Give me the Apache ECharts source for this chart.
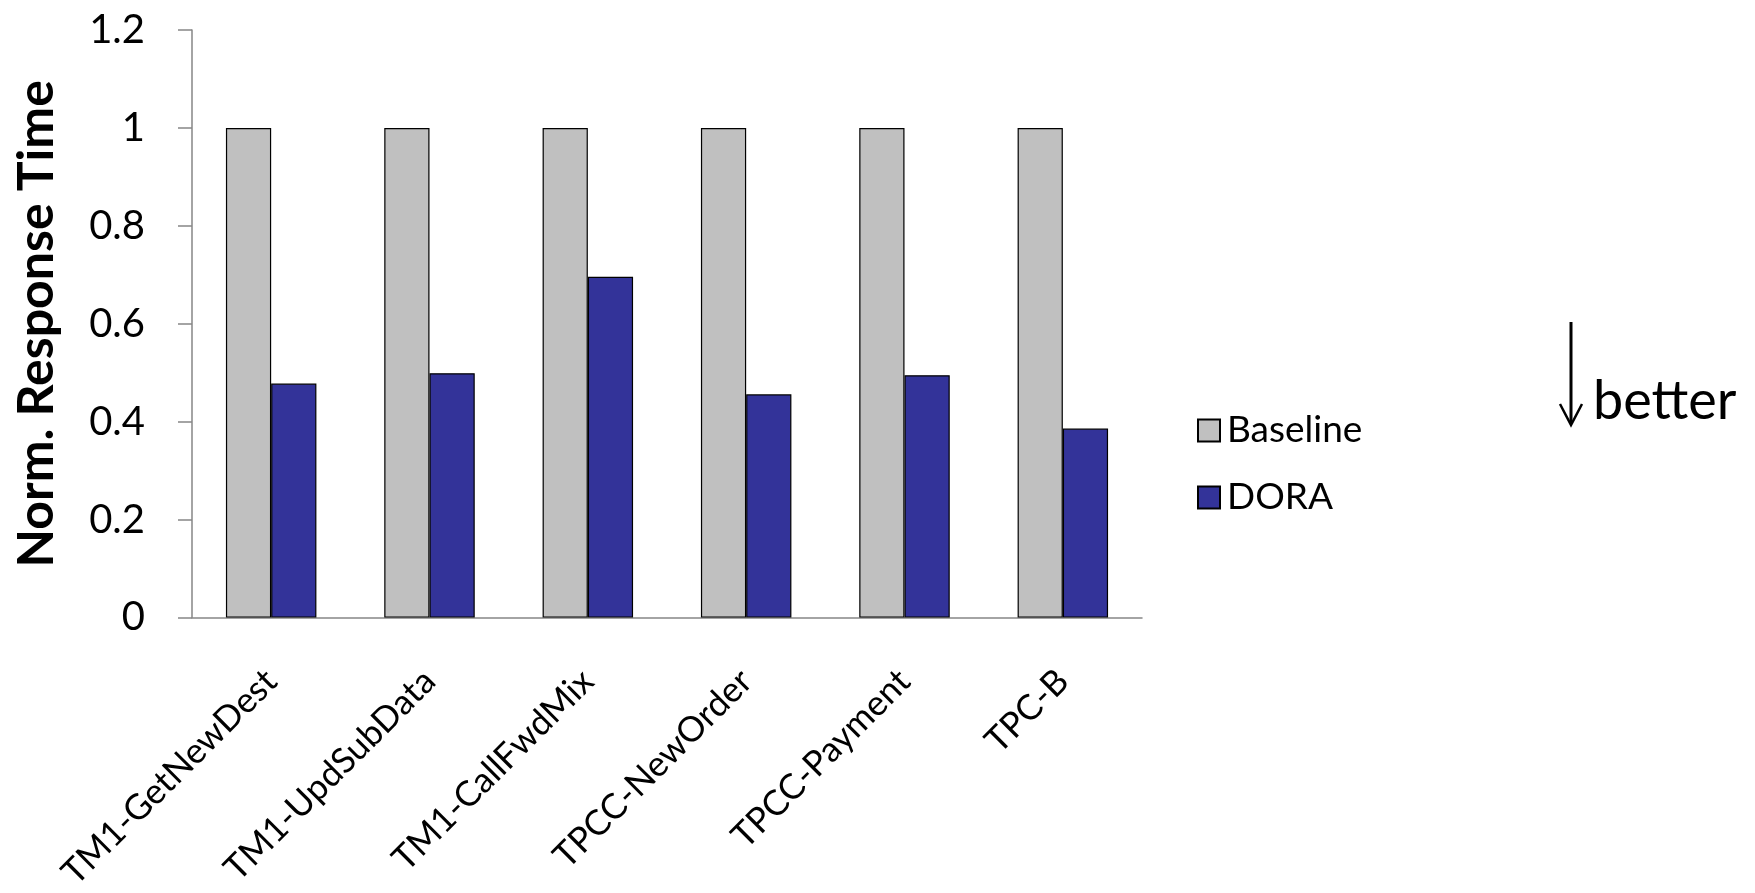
<!DOCTYPE html>
<html>
<head>
<meta charset="utf-8">
<script src="https://cdn.jsdelivr.net/npm/echarts@6/dist/echarts.min.js"></script>
<style>
  html, body { margin: 0; padding: 0; background: #ffffff; }
  #chart { width: 1755px; height: 893px; }
</style>
</head>
<body>
<div id="chart"></div>
<script>
// Workloads on the x axis
const categories = ['TM1-GetNewDest', 'TM1-UpdSubData', 'TM1-CallFwdMix', 'TPCC-NewOrder', 'TPCC-Payment', 'TPC-B'];
// Response time normalised to the baseline system
const baselineValues = [1, 1, 1, 1, 1, 1];
const doraValues = [0.478, 0.499, 0.696, 0.456, 0.495, 0.386];
// Value axis range
const yMin = 0;
const yMax = 1.2;
const yStep = 0.2;

const FONT = 'Lato, "Open Sans", sans-serif';
const AXIS_GRAY = '#868686';

const chart = echarts.init(document.getElementById('chart'), null, { renderer: 'canvas' });

chart.setOption({
  animation: false,
  backgroundColor: '#ffffff',
  grid: { left: 192, right: 613, top: 30, bottom: 274, containLabel: false },
  legend: {
    orient: 'vertical',
    left: 1192,
    top: 407,
    itemWidth: 22,
    itemHeight: 22,
    itemGap: 30,
    icon: 'rect',
    selectedMode: false,
    textStyle: { fontFamily: FONT, fontSize: 37, color: '#000', padding: [0, 0, 0, 2] },
    data: ['Baseline', 'DORA']
  },
  xAxis: {
    type: 'category',
    data: categories,
    boundaryGap: true,
    axisLine: { show: true, lineStyle: { color: AXIS_GRAY, width: 1.5 } },
    axisTick: { show: false },
    axisLabel: {
      rotate: 45,
      interval: 0,
      margin: 58,
      fontFamily: FONT,
      fontSize: 35,
      color: '#000'
    },
    splitLine: { show: false }
  },
  yAxis: {
    type: 'value',
    min: yMin,
    max: yMax,
    interval: yStep,
    name: 'Norm. Response Time',
    nameLocation: 'middle',
    nameGap: 130,
    nameRotate: 90,
    nameTextStyle: { fontFamily: FONT, fontSize: 50, fontWeight: 'bold', color: '#000' },
    axisLine: { show: true, lineStyle: { color: AXIS_GRAY, width: 1.5 } },
    axisTick: { show: true, inside: false, length: 14, lineStyle: { color: AXIS_GRAY, width: 1.5 } },
    axisLabel: { margin: 47, fontFamily: FONT, fontSize: 40, color: '#000' },
    splitLine: { show: false }
  },
  series: [
    {
      name: 'Baseline',
      type: 'bar',
      data: baselineValues,
      barGap: '0%',
      barCategoryGap: '42.86%',
      itemStyle: { color: '#C0C0C0', borderColor: '#000', borderWidth: 1.2 }
    },
    {
      name: 'DORA',
      type: 'bar',
      data: doraValues,
      barGap: '0%',
      barCategoryGap: '42.86%',
      itemStyle: { color: '#333399', borderColor: '#000', borderWidth: 1.2 }
    }
  ],
  graphic: [
    // "lower is better" hint: a downward arrow next to the word
    {
      type: 'line',
      shape: { x1: 1571, y1: 322, x2: 1571, y2: 423 },
      style: { stroke: '#000', lineWidth: 3 }
    },
    {
      type: 'polyline',
      shape: { points: [[1560, 404], [1571, 425], [1582, 404]] },
      style: { stroke: '#000', lineWidth: 2.5, fill: null }
    },
    {
      type: 'text',
      left: 1593,
      top: 375,
      style: { text: 'better', fontFamily: FONT, fontSize: 54, fill: '#000' }
    }
  ]
});
</script>
</body>
</html>
